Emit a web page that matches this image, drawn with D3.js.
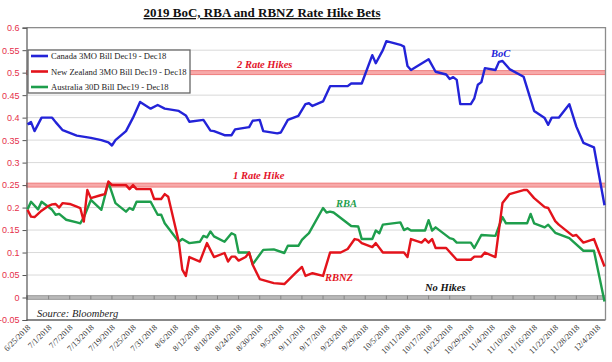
<!DOCTYPE html>
<html><head><meta charset="utf-8">
<script src="https://cdn.jsdelivr.net/npm/d3@7"></script>
<style>
html,body{margin:0;padding:0;background:#fff;}
svg{display:block;}
</style></head>
<body>
<svg id="chart" width="612" height="362"></svg>
<script>
// ---------- DATA ----------
const canadaDates = ["2018-06-25","2018-06-26","2018-06-27","2018-06-29","2018-07-02","2018-07-03","2018-07-05","2018-07-09","2018-07-13","2018-07-16","2018-07-18","2018-07-19","2018-07-20","2018-07-23","2018-07-24","2018-07-25","2018-07-27","2018-07-30","2018-08-01","2018-08-03","2018-08-07","2018-08-09","2018-08-10","2018-08-14","2018-08-16","2018-08-17","2018-08-20","2018-08-22","2018-08-23","2018-08-27","2018-08-28","2018-08-30","2018-08-31","2018-09-04","2018-09-05","2018-09-07","2018-09-10","2018-09-12","2018-09-13","2018-09-14","2018-09-17","2018-09-19","2018-09-24","2018-09-25","2018-09-28","2018-10-01","2018-10-02","2018-10-04","2018-10-05","2018-10-09","2018-10-10","2018-10-11","2018-10-12","2018-10-17","2018-10-19","2018-10-22","2018-10-23","2018-10-24","2018-10-25","2018-10-26","2018-10-29","2018-10-30","2018-10-31","2018-11-01","2018-11-02","2018-11-05","2018-11-06","2018-11-07","2018-11-09","2018-11-13","2018-11-16","2018-11-19","2018-11-20","2018-11-21","2018-11-23","2018-11-26","2018-11-28","2018-11-30","2018-12-03","2018-12-06"];
const canadaValues = [0.385,0.39,0.37,0.40,0.40,0.39,0.372,0.36,0.355,0.35,0.345,0.338,0.35,0.37,0.385,0.40,0.435,0.42,0.428,0.42,0.415,0.405,0.391,0.395,0.371,0.37,0.361,0.361,0.374,0.379,0.393,0.395,0.37,0.365,0.367,0.395,0.404,0.43,0.432,0.426,0.436,0.47,0.47,0.476,0.476,0.539,0.521,0.55,0.57,0.562,0.558,0.515,0.506,0.53,0.502,0.496,0.486,0.49,0.484,0.43,0.43,0.443,0.473,0.479,0.51,0.506,0.524,0.526,0.508,0.491,0.415,0.399,0.384,0.40,0.40,0.43,0.38,0.344,0.334,0.205];

const nzDates = ["2018-06-25","2018-06-26","2018-06-27","2018-06-29","2018-07-01","2018-07-02","2018-07-03","2018-07-04","2018-07-05","2018-07-07","2018-07-09","2018-07-10","2018-07-11","2018-07-12","2018-07-13","2018-07-16","2018-07-17","2018-07-18","2018-07-19","2018-07-23","2018-07-24","2018-07-25","2018-07-26","2018-07-30","2018-07-31","2018-08-02","2018-08-03","2018-08-04","2018-08-07","2018-08-08","2018-08-09","2018-08-10","2018-08-13","2018-08-15","2018-08-17","2018-08-20","2018-08-21","2018-08-22","2018-08-23","2018-08-24","2018-08-26","2018-08-27","2018-08-28","2018-08-30","2018-09-03","2018-09-06","2018-09-09","2018-09-11","2018-09-12","2018-09-14","2018-09-17","2018-09-19","2018-09-22","2018-09-24","2018-09-26","2018-09-27","2018-09-28","2018-10-01","2018-10-02","2018-10-04","2018-10-10","2018-10-11","2018-10-12","2018-10-15","2018-10-16","2018-10-17","2018-10-18","2018-10-19","2018-10-22","2018-10-25","2018-10-29","2018-10-30","2018-11-01","2018-11-02","2018-11-05","2018-11-07","2018-11-09","2018-11-13","2018-11-14","2018-11-16","2018-11-19","2018-11-20","2018-11-22","2018-11-23","2018-11-27","2018-11-28","2018-11-30","2018-12-03","2018-12-06"];
const nzValues = [0.195,0.18,0.179,0.193,0.204,0.207,0.208,0.2,0.21,0.208,0.202,0.199,0.169,0.239,0.221,0.228,0.23,0.258,0.25,0.25,0.241,0.25,0.241,0.241,0.219,0.219,0.23,0.224,0.124,0.062,0.048,0.09,0.08,0.121,0.09,0.099,0.08,0.091,0.091,0.082,0.09,0.1,0.073,0.041,0.032,0.03,0.053,0.068,0.048,0.054,0.048,0.1,0.1,0.108,0.13,0.128,0.121,0.112,0.121,0.1,0.1,0.09,0.13,0.122,0.13,0.122,0.13,0.11,0.11,0.084,0.084,0.091,0.091,0.1,0.09,0.21,0.23,0.239,0.239,0.221,0.201,0.199,0.17,0.162,0.137,0.139,0.122,0.13,0.069];

const ausDates = ["2018-06-25","2018-06-26","2018-06-28","2018-06-29","2018-07-02","2018-07-03","2018-07-04","2018-07-06","2018-07-09","2018-07-10","2018-07-11","2018-07-13","2018-07-16","2018-07-18","2018-07-20","2018-07-23","2018-07-24","2018-07-25","2018-07-26","2018-07-30","2018-08-01","2018-08-02","2018-08-03","2018-08-07","2018-08-08","2018-08-10","2018-08-13","2018-08-14","2018-08-15","2018-08-16","2018-08-17","2018-08-20","2018-08-22","2018-08-23","2018-08-24","2018-08-27","2018-08-28","2018-08-31","2018-09-03","2018-09-06","2018-09-07","2018-09-10","2018-09-11","2018-09-12","2018-09-13","2018-09-17","2018-09-18","2018-09-19","2018-09-20","2018-09-25","2018-09-27","2018-09-28","2018-10-01","2018-10-02","2018-10-03","2018-10-04","2018-10-09","2018-10-10","2018-10-11","2018-10-12","2018-10-16","2018-10-17","2018-10-18","2018-10-19","2018-10-23","2018-10-24","2018-10-25","2018-10-29","2018-10-30","2018-11-01","2018-11-05","2018-11-07","2018-11-08","2018-11-14","2018-11-15","2018-11-16","2018-11-19","2018-11-20","2018-11-22","2018-11-26","2018-11-30","2018-12-03","2018-12-06"];
const ausValues = [0.196,0.213,0.196,0.213,0.195,0.184,0.186,0.173,0.167,0.165,0.178,0.217,0.195,0.256,0.21,0.191,0.199,0.195,0.213,0.213,0.184,0.184,0.165,0.124,0.13,0.121,0.124,0.137,0.134,0.147,0.136,0.124,0.143,0.139,0.1,0.1,0.074,0.106,0.107,0.099,0.115,0.115,0.128,0.136,0.143,0.199,0.189,0.191,0.189,0.159,0.158,0.13,0.13,0.149,0.143,0.162,0.167,0.15,0.154,0.149,0.149,0.172,0.149,0.156,0.132,0.13,0.122,0.122,0.11,0.139,0.137,0.179,0.165,0.165,0.186,0.165,0.156,0.162,0.144,0.132,0.104,0.104,-0.009];

const seriesNames = ["Canada 3MO Bill Dec19 - Dec18","New Zealand 3MO Bill Dec19 - Dec18","Australia 30D Bill Dec19 - Dec18"];
const xTickLabels = ["6/25/2018","7/1/2018","7/7/2018","7/13/2018","7/19/2018","7/25/2018","7/31/2018","8/6/2018","8/12/2018","8/18/2018","8/24/2018","8/30/2018","9/5/2018","9/11/2018","9/17/2018","9/23/2018","9/29/2018","10/5/2018","10/11/2018","10/17/2018","10/23/2018","10/29/2018","11/4/2018","11/10/2018","11/16/2018","11/22/2018","11/28/2018","12/4/2018"];
const yTickValues = [-0.05,0,0.05,0.1,0.15,0.2,0.25,0.3,0.35,0.4,0.45,0.5,0.55,0.6];
const hikeLevels = [0.25, 0.5];
const domainStart = "2018-06-25", domainEnd = "2018-12-06";

// ---------- CHART ----------
const parse = d3.timeParse("%Y-%m-%d");
const parseTick = d3.timeParse("%m/%d/%Y");
const svg = d3.select("#chart");
const L = 26.5, R = 605.5, T = 27.7, B = 320;
const x = d3.scaleTime().domain([parse(domainStart), parse(domainEnd)]).range([27.5, 604.5]);
const y = d3.scaleLinear().domain([-0.05, 0.6]).range([B, T]);

const colors = ["#2323d8", "#e3131b", "#1e9e4c"];
const serif = "'Liberation Serif','Times New Roman',serif";
const sans = "'Liberation Sans',Arial,sans-serif";

// title
svg.append("text").attr("x", 262).attr("y", 17).attr("text-anchor", "middle")
  .attr("font-family", serif).attr("font-weight", "bold").attr("font-size", 13)
  .attr("text-decoration", "underline").attr("fill", "#111")
  .text("2019 BoC, RBA and RBNZ Rate Hike Bets");

// gridlines
svg.append("g").selectAll("line").data(yTickValues.filter(v => v !== 0 && v !== -0.05)).join("line")
  .attr("x1", L).attr("x2", R).attr("y1", d => y(d)).attr("y2", d => y(d))
  .attr("stroke", "#d9d9d9").attr("stroke-width", 1);

// hike bands
svg.append("g").selectAll("rect").data(hikeLevels).join("rect")
  .attr("x", L).attr("width", R - L)
  .attr("y", d => y(d) - 2).attr("height", 4)
  .attr("fill", "#f7a9a9").attr("stroke", "#ec6b6b").attr("stroke-width", 0.8);

// zero band (category axis)
svg.append("rect").attr("x", L).attr("width", R - L).attr("y", y(0) - 1.8).attr("height", 3.6)
  .attr("fill", "#b9b9b9").attr("stroke", "#8a8a8a").attr("stroke-width", 0.8);
svg.append("g").selectAll("line").data(xTickLabels).join("line")
  .attr("x1", d => x(parseTick(d))).attr("x2", d => x(parseTick(d)))
  .attr("y1", y(0) - 1.8).attr("y2", y(0) + 1.8)
  .attr("stroke", "#777").attr("stroke-width", 0.8);

// plot border
svg.append("path").attr("d", `M${L},${T}H${R}V${B}`).attr("fill", "none").attr("stroke", "#8c8c8c").attr("stroke-width", 1.3);
svg.append("line").attr("x1", L).attr("x2", R).attr("y1", B).attr("y2", B).attr("stroke", "#888").attr("stroke-width", 2);

// y axis
const yAxis = svg.append("g").attr("transform", `translate(${L},0)`)
  .call(d3.axisLeft(y).tickValues(yTickValues).tickSize(4).tickPadding(3).tickFormat(d => String(+d.toFixed(2))));
yAxis.select(".domain").attr("stroke", "#555").attr("stroke-width", 1.2);
yAxis.selectAll(".tick line").attr("stroke", "#555");
yAxis.selectAll(".tick text").attr("fill", "#e5304a").attr("font-family", sans).attr("font-size", 9);

// x axis labels
const xAxis = svg.append("g").attr("transform", `translate(0,${B})`)
  .call(d3.axisBottom(x).tickValues(xTickLabels.map(parseTick)).tickSize(0).tickFormat((d, i) => xTickLabels[i]));
xAxis.select(".domain").remove();
xAxis.selectAll(".tick text")
  .attr("font-family", serif).attr("font-size", 8.3).attr("fill", "#333")
  .attr("text-anchor", "end").attr("dy", 0).attr("y", 0)
  .attr("transform", "translate(3,8) rotate(-45)");

// lines
const line = d3.line().x(d => x(d[0])).y(d => y(d[1]));
const allSeries = [
  d3.zip(canadaDates.map(parse), canadaValues),
  d3.zip(nzDates.map(parse), nzValues),
  d3.zip(ausDates.map(parse), ausValues)
];
[2, 1, 0].forEach(i => {
  svg.append("path").datum(allSeries[i]).attr("d", line)
    .attr("fill", "none").attr("stroke", colors[i]).attr("stroke-width", 2.4)
    .attr("stroke-linejoin", "round");
});

// annotations
const ann = [
  {t: "2 Rate Hikes", x: 237, y: 68, c: "#e3132b"},
  {t: "1 Rate Hike", x: 233, y: 179, c: "#e3132b"},
  {t: "BoC", x: 491, y: 57, c: "#2323d8"},
  {t: "RBA", x: 336, y: 207, c: "#1e9e4c"},
  {t: "RBNZ", x: 325, y: 281, c: "#e3131b"},
  {t: "No Hikes", x: 425, y: 291, c: "#111"}
];
svg.append("g").selectAll("text").data(ann).join("text")
  .attr("x", d => d.x).attr("y", d => d.y).attr("fill", d => d.c)
  .attr("font-family", serif).attr("font-style", "italic").attr("font-weight", "bold").attr("font-size", 10.5)
  .text(d => d.t);
svg.append("text").attr("x", 37).attr("y", 316.5).attr("font-family", serif).attr("font-style", "italic")
  .attr("font-size", 10.5).attr("fill", "#222").text("Source: Bloomberg");

// legend
const lg = svg.append("g");
lg.append("rect").attr("x", 28).attr("y", 50).attr("width", 162).attr("height", 43)
  .attr("fill", "#fff").attr("stroke", "#666").attr("stroke-width", 1.3);
const rows = lg.selectAll("g.row").data(seriesNames).join("g").attr("class", "row")
  .attr("transform", (d, i) => `translate(0,${56 + i * 15.5})`);
rows.append("line").attr("x1", 31).attr("x2", 48).attr("y1", 0).attr("y2", 0)
  .attr("stroke", (d, i) => colors[i]).attr("stroke-width", 2.6);
rows.append("text").attr("x", 51).attr("y", 3.2).attr("font-family", serif).attr("font-size", 8.6)
  .attr("fill", "#222").text(d => d);
</script>
</body></html>
